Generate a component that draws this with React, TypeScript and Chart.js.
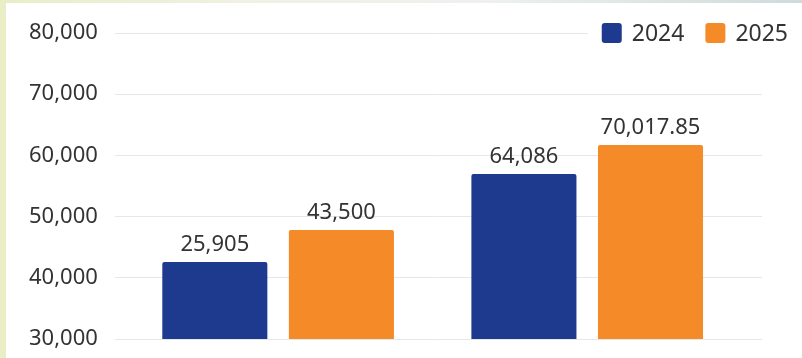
import React, { useEffect, useRef } from 'react';
import { Chart, registerables } from 'chart.js';

Chart.register(...registerables);

// ---- Data ----
const categories = ['Group 1', 'Group 2'];
const seriesNames = ['2024', '2025'];
const values2024 = [42580, 56960];
const values2025 = [47810, 61700];
const labels2024 = ['25,905', '64,086'];
const labels2025 = ['43,500', '70,017.85'];
const yTicks = [30000, 40000, 50000, 60000, 70000, 80000];

const seriesColors = ['#1d3a8f', '#f58a28'];
const FONT = '"Noto Sans", "Open Sans", sans-serif';
const TEXT = '#333333';

const valueLabelsPlugin = {
  id: 'valueLabels',
  afterDatasetsDraw(chart: any) {
    const ctx = chart.ctx;
    const all = [labels2024, labels2025];
    ctx.save();
    ctx.font = `22px ${FONT}`;
    ctx.fillStyle = TEXT;
    ctx.textAlign = 'center';
    ctx.textBaseline = 'alphabetic';
    chart.data.datasets.forEach((_ds: any, di: number) => {
      const meta = chart.getDatasetMeta(di);
      meta.data.forEach((el: any, i: number) => {
        ctx.fillText(all[di][i], el.x, el.y - 11);
      });
    });
    ctx.restore();
  },
};

const customLegendPlugin = {
  id: 'customLegend',
  afterDraw(chart: any) {
    const ctx = chart.ctx;
    ctx.save();
    ctx.font = `23px ${FONT}`;
    const box = 20;
    const gap = 10;
    const spacing = 21;
    const rightEdge = chart.width - 14;
    const items = chart.data.datasets.map((ds: any) => ({
      text: ds.label,
      color: ds.backgroundColor,
      w: box + gap + ctx.measureText(ds.label).width,
    }));
    const total = items.reduce((s: number, it: any) => s + it.w, 0) + spacing * (items.length - 1);
    let x = rightEdge - total;
    const top = 20;
    ctx.fillStyle = '#ffffff';
    ctx.fillRect(x - 14, top - 8, chart.width - (x - 14), box + 16);
    items.forEach((it: any) => {
      ctx.fillStyle = it.color;
      ctx.beginPath();
      (ctx as any).roundRect(x, top, box, box, 3);
      ctx.fill();
      ctx.fillStyle = TEXT;
      ctx.textAlign = 'left';
      ctx.textBaseline = 'middle';
      ctx.fillText(it.text, x + box + gap, top + box / 2 + 1);
      x += it.w + spacing;
    });
    ctx.restore();
  },
};

export default function App() {
  const canvasRef = useRef<HTMLCanvasElement | null>(null);

  useEffect(() => {
    if (!canvasRef.current) return;
    const seriesValues = [values2024, values2025];
    const chart = new Chart(canvasRef.current, {
      type: 'bar',
      data: {
        labels: categories,
        datasets: seriesNames.map((name, si) => ({
          label: name,
          data: categories.map((_, i) => ({ x: i, y: seriesValues[si][i] })),
          backgroundColor: seriesColors[si],
          borderRadius: 2,
          borderSkipped: 'start',
          categoryPercentage: 0.819,
          barPercentage: 0.83,
        })),
      },
      options: {
        animation: false,
        responsive: true,
        maintainAspectRatio: false,
        layout: { padding: { top: 30, bottom: 19, left: 23, right: 40 } },
        plugins: {
          legend: { display: false },
          tooltip: { enabled: false },
        },
        scales: {
          x: {
            type: 'linear',
            display: false,
            min: -0.5283,
            max: 1.5655,
            offset: false,
            ticks: { stepSize: 1, includeBounds: false },
            grid: { display: false },
          },
          y: {
            min: yTicks[0],
            max: yTicks[yTicks.length - 1],
            border: { display: false },
            grid: {
              color: '#e7e7e7',
              lineWidth: 1,
              drawTicks: true,
              tickLength: 17,
              tickColor: 'rgba(0,0,0,0)',
            },
            ticks: {
              stepSize: yTicks[1] - yTicks[0],
              padding: 0,
              color: TEXT,
              font: { family: FONT, size: 22 },
              callback: (v: any) => Number(v).toLocaleString('en-US'),
            },
          },
        },
      },
      plugins: [valueLabelsPlugin, customLegendPlugin],
    } as any);
    return () => chart.destroy();
  }, []);

  return (
    <div
      style={{
        position: 'fixed',
        left: 0,
        top: 0,
        width: 802,
        height: 358,
        background: 'linear-gradient(to right, #e9eec6 0%, #f1f0e4 30%, #eef1ef 60%, #cfdbdb 100%)',
      }}
    >
      <div
        style={{
          position: 'absolute',
          left: 6,
          top: 3,
          width: 796,
          height: 355,
          background: '#ffffff',
        }}
      >
        <canvas ref={canvasRef} />
      </div>
    </div>
  );
}
